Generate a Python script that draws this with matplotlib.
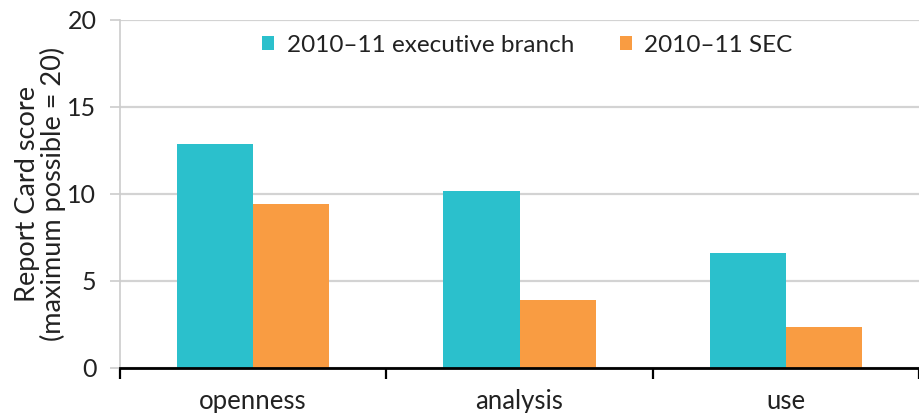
import matplotlib
matplotlib.use("Agg")
import matplotlib.pyplot as plt
import numpy as np

categories = ["openness", "analysis", "use"]
series_names = ["2010\u201311 executive branch", "2010\u201311 SEC"]
executive = [12.9, 10.2, 6.6]
sec = [9.4, 3.9, 2.35]
yticks = [0, 5, 10, 15, 20]

colors = ["#2BC0CC", "#F99C42"]

plt.rcParams['font.family'] = ['Lato', 'DejaVu Sans']

fig = plt.figure(figsize=(9.19, 4.13), dpi=100)
ax = fig.add_axes([0.1306, 0.109, 0.8694, 0.8426])

x = np.arange(len(categories))
w = 0.286
ax.bar(x - w / 2, executive, width=w, color=colors[0], label=series_names[0], zorder=3)
ax.bar(x + w / 2, sec, width=w, color=colors[1], label=series_names[1], zorder=3)

ax.set_ylim(0, 20)
ax.set_xlim(-0.5, 2.474)
ax.set_yticks(yticks)
ax.set_yticklabels([str(t) for t in yticks], fontsize=18, color="#222222")
ax.yaxis.grid(True, color="#d3d3d3", linewidth=1.6, zorder=0)
ax.set_axisbelow(True)

ax.set_xticks([-0.5, 0.5, 1.5, 2.5])
ax.set_xticklabels([])
ax.set_xticks(x, minor=True)
ax.set_xticklabels(categories, minor=True, fontsize=18.5, color="#222222")
ax.tick_params(axis="x", which="major", length=8, width=1.6, color="black", direction="out")
ax.tick_params(axis="x", which="minor", length=0, pad=15)
ax.tick_params(axis="y", length=7, width=1.2, color="#cccccc", pad=10)

for s in ["top", "right"]:
    ax.spines[s].set_visible(False)
ax.spines["left"].set_color("#cccccc")
ax.spines["left"].set_linewidth(1.2)
ax.spines["bottom"].set_color("black")
ax.spines["bottom"].set_linewidth(2)
ax.spines["bottom"].set_zorder(4)

ax.set_ylabel("Report Card score\n(maximum possible = 20)", fontsize=19.5, color="#222222",
              linespacing=1.0, labelpad=1)

leg = ax.legend(loc="upper center", bbox_to_anchor=(0.51, 1.02), ncol=2, frameon=False,
                fontsize=17.5, handlelength=0.5, handleheight=0.5, handletextpad=0.5,
                columnspacing=1.9)
for t in leg.get_texts():
    t.set_color("#222222")

fig.savefig("out.png", dpi=100)
